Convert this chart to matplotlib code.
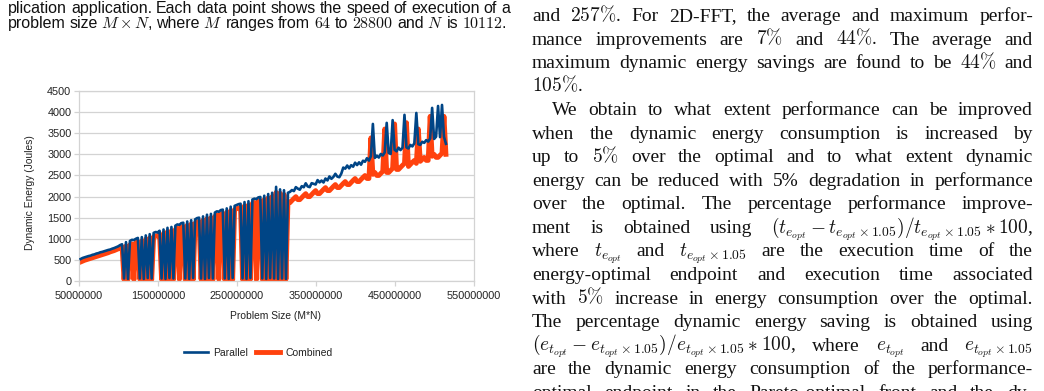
import re
import numpy as np
import matplotlib.pyplot as plt

plt.rcParams['mathtext.fontset'] = 'cm'

# ---- chart data ----
parallel_rise = [520, 545, 560, 575, 590, 600, 620, 630, 650, 660, 680,
                 690, 705, 720, 735, 745, 765, 780, 800, 820, 850, 870]
combined_rise = [450, 470, 490, 505, 520, 535, 550, 565, 580, 595, 610,
                 625, 640, 655, 670, 690, 705, 720, 740, 760, 790, 810]

parallel_drops = [60, 920, 50, 950, 975, 970, 1000, 1020, 60, 1040,
                  50, 1080, 70, 1110, 60, 1140, 1160, 1150, 1190, 60,
                  1220, 50, 1260, 70, 1280, 60, 1310, 1340, 1330, 1370,
                  1380, 60, 1410, 50, 1440, 70, 1460, 1490, 1500, 60,
                  1530, 50, 1570, 70, 1590, 60, 1620, 1650, 1640, 1680,
                  1690, 60, 1720, 50, 1760, 70, 1780, 1800, 1820, 1830,
                  60, 1870, 50, 1890, 70, 1930, 1950, 1940, 1980, 1990,
                  60, 2020, 50, 2060, 70, 2090, 60, 2230, 50, 2170,
                  60, 2150, 50, 2090]
combined_drops = [30, 830, 40, 860, 880, 30, 910, 930, 40, 950,
                  30, 990, 40, 1020, 30, 1050, 1070, 1060, 1100, 40,
                  1130, 30, 1170, 40, 1190, 30, 1220, 1250, 40, 1280,
                  1290, 30, 1320, 40, 1350, 30, 1370, 1400, 1410, 40,
                  1440, 30, 1480, 40, 1500, 30, 1530, 1560, 40, 1590,
                  1600, 30, 1630, 40, 1670, 30, 1690, 1710, 1730, 1740,
                  40, 1780, 30, 1800, 40, 1840, 1860, 30, 1890, 1900,
                  40, 1930, 30, 1970, 40, 2000, 30, 2100, 40, 2080,
                  30, 2050, 40, 1880]

parallel_tail = [2110, 2154, 2129, 2223, 2187, 2162, 2246, 2220, 2314, 2239,
                 2223, 2317, 2302, 2286, 2390, 2335, 2379, 2333, 2427, 2382,
                 2476, 2420, 2465, 2539, 2473, 2458, 2542, 2686, 2660, 2735,
                 2669, 2743, 2708, 2802, 2746, 2810, 2755, 2849, 2823, 2908,
                 2852, 2956, 3720, 2915, 2969, 2924, 3008, 2972, 3046, 3745,
                 3035, 3009, 3810, 3108, 3072, 3157, 3101, 3155, 3935, 3164,
                 3138, 3222, 3187, 3261, 3980, 3240, 3224, 3298, 3272, 3337,
                 3301, 3375, 4100, 3364, 3418, 4145, 3407, 4170, 3415, 3250]
combined_tail = [1855, 1904, 1954, 1998, 1927, 1927, 1976, 2025, 2069, 1999,
                 1998, 2047, 2097, 2141, 2070, 2070, 2119, 2168, 2212, 2142,
                 2141, 2190, 2240, 2284, 2213, 2213, 2262, 2311, 2355, 2285,
                 2284, 2333, 2383, 2427, 2356, 2355, 2405, 2454, 2498, 2428,
                 2427, 3390, 2526, 2570, 2499, 2499, 2548, 2597, 3600, 2571,
                 2570, 2619, 2669, 3720, 2642, 2642, 2691, 2740, 2784, 3750,
                 2713, 2762, 2812, 2856, 2785, 3600, 2834, 2883, 2927, 2857,
                 2856, 3900, 2955, 2999, 2928, 2928, 2977, 3026, 3900, 3000]

parallel = parallel_rise + parallel_drops + parallel_tail
combined = combined_rise + combined_drops + combined_tail
# problem sizes sampled every 2.5M starting at 52M
problem_size = 52_000_000 + 2_500_000 * np.arange(len(parallel))

xticks = [50000000, 150000000, 250000000, 350000000, 450000000, 550000000]
yticks = [0, 500, 1000, 1500, 2000, 2500, 3000, 3500, 4000, 4500]

# ---- page text around the chart ----
caption_lines = [
    "plication application. Each data point shows the speed of execution of a",
    r"problem size $M \times N$, where $M$ ranges from $64$ to $28800$ and $N$ is $10112$.",
]
body_lines = [
    r"and $257\%$. For 2D-FFT, the average and maximum perfor-",
    r"mance improvements are $7\%$ and $44\%$. The average and",
    r"maximum dynamic energy savings are found to be $44\%$ and",
    r"$105\%$.",
    r"We obtain to what extent performance can be improved",
    r"when the dynamic energy consumption is increased by",
    r"up to $5\%$ over the optimal and to what extent dynamic",
    r"energy can be reduced with 5% degradation in performance",
    r"over the optimal. The percentage performance improve-",
    r"ment is obtained using $(t_{e_{opt}}-t_{e_{opt}\times1.05})/t_{e_{opt}\times1.05}*100$,",
    r"where $t_{e_{opt}}$ and $t_{e_{opt}\times1.05}$ are the execution time of the",
    r"energy-optimal endpoint and execution time associated",
    r"with $5\%$ increase in energy consumption over the optimal.",
    r"The percentage dynamic energy saving is obtained using",
    r"$(e_{t_{opt}}-e_{t_{opt}\times1.05})/e_{t_{opt}\times1.05}*100$, where $e_{t_{opt}}$ and $e_{t_{opt}\times1.05}$",
    r"are the dynamic energy consumption of the performance-",
    r"optimal endpoint in the Pareto-optimal front and the dy-",
]

W, H = 1044, 391
fig = plt.figure(figsize=(10.44, 3.91), dpi=100)
renderer = fig.canvas.get_renderer()

# chart
ax = fig.add_axes([79 / W, 1 - 281 / H, 395 / W, 190 / H])
orange, = ax.plot(problem_size, combined, color='#ff420e', lw=3.5, label='Combined', zorder=2)
blue, = ax.plot(problem_size, parallel, color='#004586', lw=1.9, label='Parallel', zorder=3)
ax.set_xlim(50e6, 550e6)
ax.set_ylim(0, 4500)
ax.set_xticks(xticks)
ax.set_xticklabels([str(t) for t in xticks])
ax.set_yticks(yticks)
ax.set_yticklabels([str(t) for t in yticks])
ax.grid(axis='y', color='#d3d3d3', lw=0.9)
ax.set_axisbelow(True)
for s in ax.spines.values():
    s.set_color('#d3d3d3')
    s.set_linewidth(0.9)
ax.tick_params(length=3.5, width=0.9, color='#d3d3d3', labelcolor='#222222', labelsize=7.8, pad=2)
ax.tick_params(axis='x', pad=4)
for lab in ax.get_xticklabels() + ax.get_yticklabels():
    lab.set_family('Liberation Sans')

fig.text(30 / W, 1 - 193 / H, 'Dynamic Energy (Joules)', rotation=90, ha='center', va='center',
         fontsize=7.4, family='Liberation Sans', color='#222222')
fig.text(276 / W, 1 - 316 / H, 'Problem Size (M*N)', ha='center', va='center',
         fontsize=7.4, family='Liberation Sans', color='#222222')
fig.legend(handles=[blue, orange], loc='center', bbox_to_anchor=(258 / W, 1 - 353 / H), ncol=2,
           frameon=False, prop={'family': 'Liberation Sans', 'size': 7.5},
           handlelength=2.3, handletextpad=0.5, columnspacing=0.8, labelcolor='#222222')


def put_line(text, base_px, x0, x1, size, family, justify=True):
    words = re.findall(r'(?:\$[^$]*\$|[^\s$])+', text)
    objs = [fig.text(0, 1 - base_px / H, w, fontsize=size, family=family,
                     va='baseline', color='#111111') for w in words]
    widths = [o.get_window_extent(renderer).width for o in objs]
    if justify and len(words) > 1:
        gap = (x1 - x0 - sum(widths)) / (len(words) - 1)
    else:
        gap = size * 0.3 * 100 / 72
    x = x0
    for o, w in zip(objs, widths):
        o.set_x(x / W)
        x += w + gap


# caption (left column)
put_line(caption_lines[0], 13, 8, 510, 11.5, 'Liberation Sans')
put_line(caption_lines[1], 28, 8, 507, 11.5, 'Liberation Sans')

# body text (right column)
for k, line in enumerate(body_lines):
    base = 21 + 23.55 * k
    left = 552 if k == 4 else 532
    put_line(line, base, left, 1033, 14, 'Liberation Serif', justify=(k != 3))

fig.savefig('out.png', dpi=100)
